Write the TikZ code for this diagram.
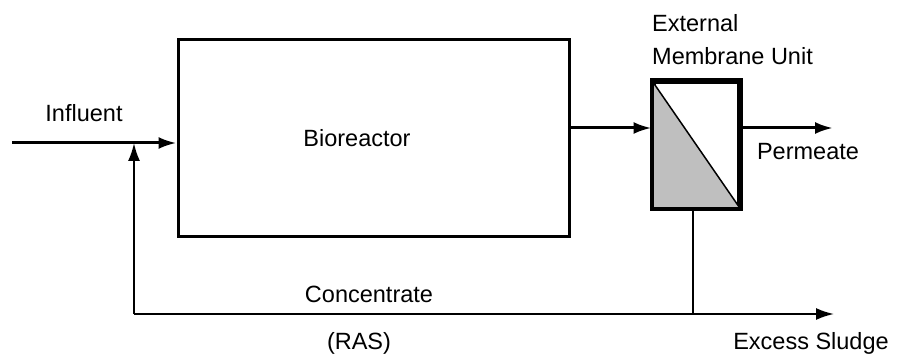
\documentclass[tikz,border=0pt]{standalone}
\usepackage{fontspec}
\setmainfont{Liberation Sans}
\usetikzlibrary{arrows.meta}

\begin{document}
\begin{tikzpicture}[x=1pt,y=-1pt,line cap=butt,line join=miter,
    flow/.style={line width=3pt,-{Latex[length=18pt,width=12pt]}},
    thinflow/.style={line width=2pt,-{Latex[length=18pt,width=12pt]}},
    tag/.style={anchor=base,inner sep=0pt,font=\fontsize{23.5}{27}\selectfont}]
  \path[use as bounding box] (0,0) rectangle (901,358);

  % units
  \node[draw,line width=3pt,minimum width=391pt,minimum height=196pt,inner sep=0pt]
    (bio) at (373.5,138) {};
  \node[draw,line width=4pt,minimum width=85pt,minimum height=125pt,inner sep=0pt]
    (mem) at (696,144.5) {};
  \fill[gray!50] (mem.north west) -- (mem.south east) -- (mem.south west) -- cycle;
  \draw[line width=1.5pt] (mem.north west) -- (mem.south east);
  \draw[line width=4pt] (mem.north west) rectangle (mem.south east);

  % free ends
  \coordinate (inlet) at (12,143);
  \coordinate (split) at (693,314);
  \coordinate (ret) at (134,314);
  \coordinate (sludge) at (834,314);
  \coordinate (perm) at (833,128);

  % flows
  \draw[flow] (inlet) -- (inlet -| bio.west);
  \draw[flow] (bio.east |- perm) -- (mem.west |- perm);
  \draw[flow] (mem.east |- perm) -- (perm);
  \draw[line width=1.5pt] (split |- mem.south) -- (split);
  \draw[thinflow] (ret) -- (sludge);
  \draw[thinflow] (ret) -- (ret |- inlet);

  % labels
  \node[tag] (lbio) at (357,147) {Bioreactor};
  \node[tag] (lin) at (84,122) {Influent};
  \node[tag,anchor=base west] (lext) at (652,32) {External};
  \node[tag,anchor=base west] (lmu) at (652,65) {Membrane Unit};
  \node[tag] (lperm) at (808,160) {Permeate};
  \node[tag] (lconc) at (369,302) {Concentrate};
  \node[tag] (lras) at (359,349) {(RAS)};
  \node[tag] (lex) at (811,349) {Excess Sludge};
\end{tikzpicture}
\end{document}
